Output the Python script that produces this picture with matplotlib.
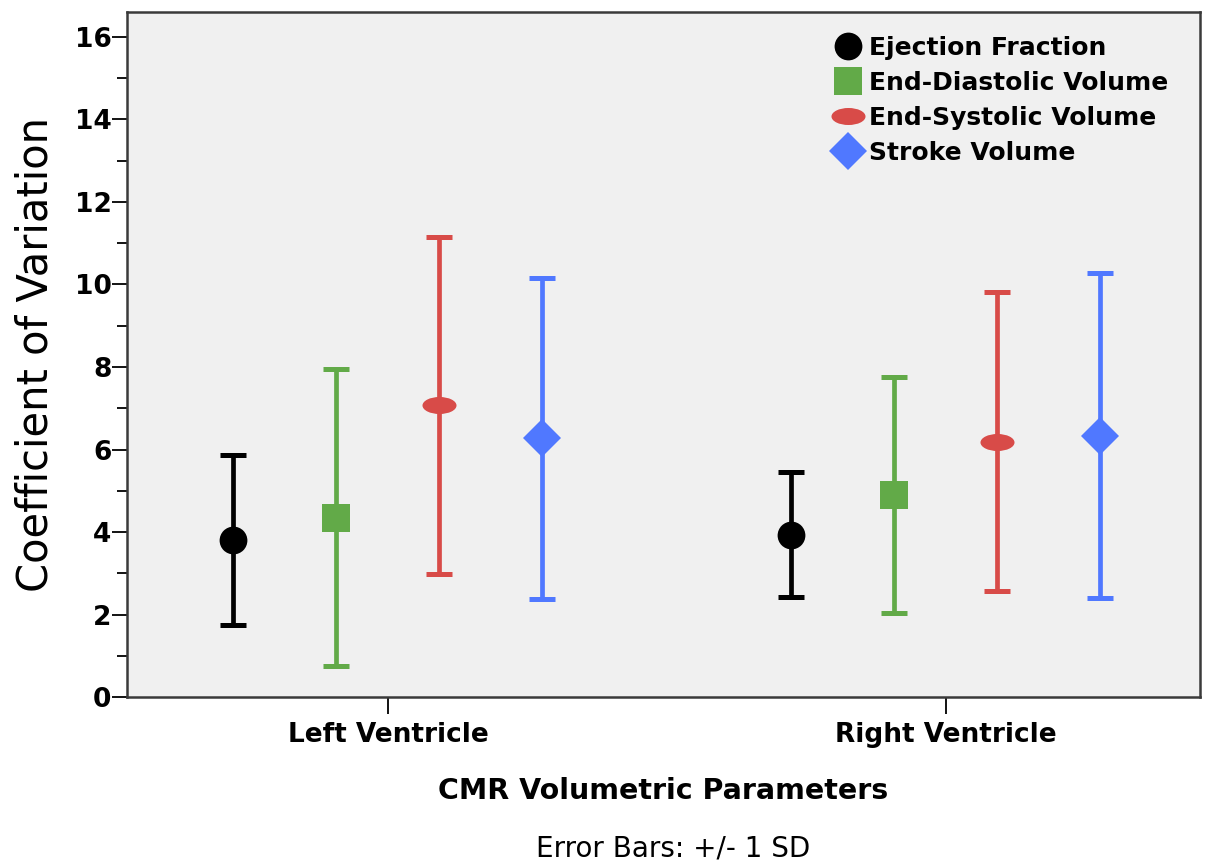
import numpy as np
import matplotlib
matplotlib.use("Agg")
import matplotlib.pyplot as plt
from matplotlib.path import Path
from matplotlib.transforms import Affine2D
from matplotlib.lines import Line2D

# Coefficient of variation (mean and 1 SD) per ventricle and parameter
groups = ["Left Ventricle", "Right Ventricle"]
parametros = ["Ejection Fraction", "End-Diastolic Volume",
              "End-Systolic Volume", "Stroke Volume"]
media_vi = [3.81, 4.35, 7.07, 6.27]
sd_vi = [2.06, 3.59, 4.09, 3.89]
media_vd = [3.94, 4.89, 6.19, 6.33]
sd_vd = [1.52, 2.86, 3.62, 3.94]

colores = ["#000000", "#62aa48", "#d84b48", "#5078ff"]

# marcador elíptico para el volumen sistólico
elipse = Path.unit_circle().transformed(Affine2D().scale(1.0, 0.5))
marcadores = ["o", "s", elipse, "D"]
tamanos = [20, 19.5, 24.5, 19]

fig = plt.figure(figsize=(12.08, 8.67), dpi=100)
ax = fig.add_axes([0.105, 0.196, 0.888, 0.790])
ax.set_facecolor("#f0f0f0")

desplaz = np.array([-1.5, -0.5, 0.5, 1.5]) * 0.1846
centros = np.arange(len(groups))
medias = np.array([media_vi, media_vd])
sds = np.array([sd_vi, sd_vd])

for i in range(len(parametros)):
    ax.errorbar(centros + desplaz[i], medias[:, i], yerr=sds[:, i],
                fmt="none", ecolor=colores[i], elinewidth=3.4,
                capsize=9.5, capthick=3.6, zorder=2)
    ax.plot(centros + desplaz[i], medias[:, i], linestyle="none",
            marker=marcadores[i], ms=tamanos[i], color=colores[i],
            markeredgewidth=0, zorder=3)

ax.set_xlim(-0.468, 1.455)
ax.set_ylim(0, 16.6)
ax.set_yticks(np.arange(0, 17, 2))
ax.set_yticks(np.arange(1, 17, 2), minor=True)
ax.set_xticks(centros)
ax.set_xticklabels(groups, fontsize=19, fontweight="bold")
for lab in ax.get_yticklabels():
    lab.set_fontsize(19)
    lab.set_fontweight("bold")
ax.tick_params(axis="y", which="major", length=11, width=1.3, pad=0)
ax.tick_params(axis="y", which="minor", length=7, width=1.3)
ax.tick_params(axis="x", which="major", length=12, width=1.3, pad=6)

for s in ax.spines.values():
    s.set_color("#3a3a3a")
    s.set_linewidth(1.8)

ax.set_ylabel("Coefficient of Variation", fontsize=30, labelpad=13)
ax.set_xlabel("CMR Volumetric Parameters", fontsize=20.5, fontweight="bold",
              labelpad=21)
fig.text(0.557, 0.012, "Error Bars: +/- 1 SD", fontsize=20, ha="center")

handles = [Line2D([], [], linestyle="none", marker=marcadores[i],
                  color=colores[i], ms=tamanos[i], markeredgewidth=0)
           for i in range(4)]
leg = ax.legend(handles, parametros, loc="upper right",
                bbox_to_anchor=(1168 / 1208, 1 - 36 / 867),
                bbox_transform=fig.transFigure, frameon=False,
                prop={"size": 18, "weight": "bold"}, handlelength=1.0,
                handletextpad=0.35, labelspacing=0.44, borderaxespad=0,
                borderpad=0)

plt.savefig("out.png", dpi=100)
